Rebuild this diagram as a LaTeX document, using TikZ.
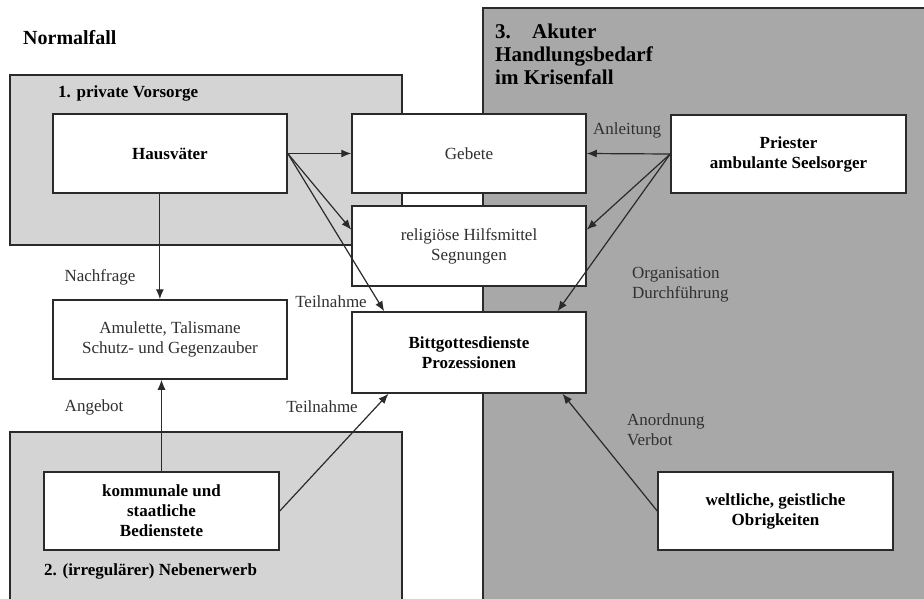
\documentclass[tikz,border=0pt]{standalone}
\usepackage{fontspec}
\setmainfont{Liberation Serif}
\usetikzlibrary{calc,arrows.meta}
\definecolor{lightreg}{HTML}{D4D4D4}
\definecolor{darkreg}{HTML}{A8A8A8}
\definecolor{ink}{HTML}{2A2A2A}
\definecolor{txt}{HTML}{303030}
\begin{document}
\begin{tikzpicture}[x=1pt,y=-1pt,
  region/.style={draw=ink, line width=1.2pt},
  wbox/.style={draw=ink, fill=white, line width=1.5pt, minimum width=234pt, minimum height=79pt,
    align=center, inner sep=0pt, text=txt, font=\fontsize{17}{20}\selectfont},
  bbox/.style={wbox, text=black, font=\fontsize{17}{20}\selectfont\bfseries},
  arr/.style={draw=ink, line width=1.2pt, -{Latex[length=10pt,width=8pt]}},
  lbl/.style={font=\fontsize{17}{20}\selectfont, text=txt, inner sep=0pt, align=left},
  head/.style={font=\fontsize{17}{20}\selectfont\bfseries, text=black, inner sep=0pt, align=left}]
\useasboundingbox[fill=white] (0,0) rectangle (924,598);

% regions
\draw[region, fill=darkreg] (483,8) rectangle (935,610);
\draw[region, fill=lightreg] (10,75) rectangle (402,245);
\draw[region, fill=lightreg] (10,432) rectangle (402,610);

% headers
\node[head, anchor=base west, font=\fontsize{20}{23}\selectfont\bfseries] (normal) at (23,44) {Normalfall};
\node[head, anchor=base west] (h1) at (58,97) {1. private Vorsorge};
\node[head, anchor=base west] (h2) at (44,575) {2. (irregulärer) Nebenerwerb};
\node[head, anchor=north west, font=\fontsize{21}{23}\selectfont\bfseries] (h3) at (495,24)
  {\makebox[37pt][l]{3.}Akuter\\Handlungsbedarf\\im Krisenfall};

% boxes
\node[bbox] (haus) at (170,153.5) {Hausväter};
\node[wbox] (gebete) at (469,153.5) {Gebete};
\node[wbox, minimum height=80pt] (relig) at (469,246) {religiöse Hilfsmittel\\Segnungen};
\node[bbox, minimum width=235pt, minimum height=78pt] (priester) at (788.5,154) {Priester\\ambulante Seelsorger};
\node[wbox] (amul) at (170,339.5) {Amulette, Talismane\\Schutz- und Gegenzauber};
\node[bbox, minimum height=81pt] (bitt) at (469,352.5) {Bittgottesdienste\\Prozessionen};
\node[bbox, minimum width=235pt, minimum height=78pt] (komm) at (161.5,511) {kommunale und\\staatliche\\Bedienstete};
\node[bbox, minimum width=235pt, minimum height=78pt] (obrig) at (775.5,511) {weltliche, geistliche\\Obrigkeiten};

% connector labels
\node[lbl] (nachfrage) at (100,277) {Nachfrage};
\node[lbl] (angebot) at (94,407) {Angebot};
\node[lbl] (teil1) at (331,302) {Teilnahme};
\node[lbl] (teil2) at (322,407) {Teilnahme};
\node[lbl] (anleitung) at (627,130) {Anleitung};
\node[lbl, anchor=west] (orga) at (632,285) {Organisation\\Durchführung};
\node[lbl, anchor=west] (anord) at (627,430) {Anordnung\\Verbot};

% connector end points
\coordinate (hsouth) at ($(haus.south west)!0.457!(haus.south east)$);
\coordinate (relW) at ($(relig.north west)!0.3!(relig.south west)$);
\coordinate (relE) at ($(relig.north east)!0.3!(relig.south east)$);
\coordinate (bittNW) at ($(bitt.north west)!0.14!(bitt.north east)$);
\coordinate (bittNE) at ($(bitt.north west)!0.876!(bitt.north east)$);
\coordinate (bittSW) at ($(bitt.south west)!0.158!(bitt.south east)$);
\coordinate (bittSE) at ($(bitt.south west)!0.897!(bitt.south east)$);

% connectors
\draw[arr] (haus.east) -- (gebete.west);
\draw[arr] (haus.east) -- (relW);
\draw[arr] (haus.east) -- (bittNW);
\draw[arr] (priester.west) -- (gebete.east);
\draw[arr] (priester.west) -- (relE);
\draw[arr] (priester.west) -- (bittNE);
\draw[arr] (hsouth) -- (hsouth |- amul.north);
\draw[arr] (komm.north) -- (komm.north |- amul.south);
\draw[arr] (komm.east) -- (bittSW);
\draw[arr] (obrig.west) -- (bittSE);
\end{tikzpicture}
\end{document}
